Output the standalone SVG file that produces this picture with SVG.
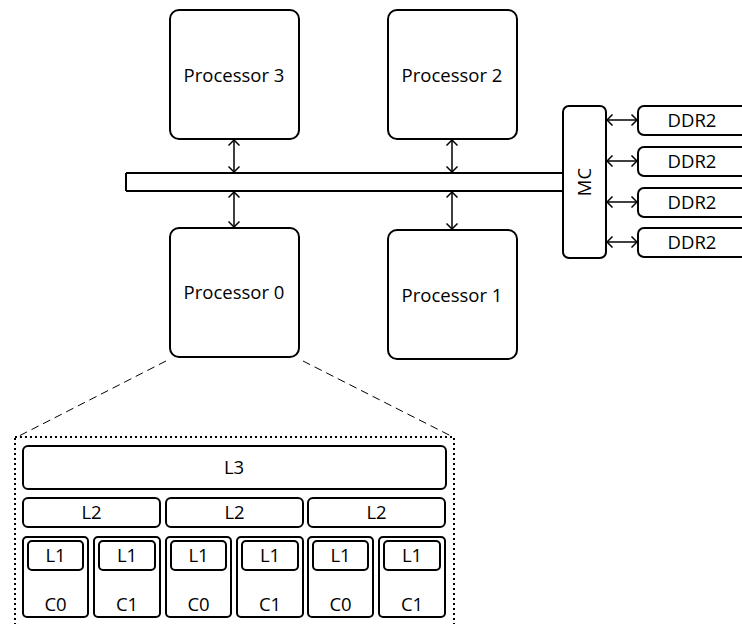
<svg xmlns="http://www.w3.org/2000/svg" width="742" height="624" viewBox="0 0 742 624">
<style>
.box{fill:#fff;stroke:#000;stroke-width:2}
.t{font-family:"Open Sans","Noto Sans",sans-serif;font-size:18.5px;fill:#000;text-anchor:middle}
.arr{fill:none;stroke:#000;stroke-width:1.5;marker-start:url(#ah);marker-end:url(#ah)}
.bus{stroke:#000;stroke-width:2;fill:none}
</style>
<defs>
<marker id="ah" viewBox="0 0 12 12" refX="11" refY="6" markerWidth="12" markerHeight="12" markerUnits="userSpaceOnUse" orient="auto-start-reverse">
<path d="M5.5,0.5 L11,6 L5.5,11.5" fill="none" stroke="#000" stroke-width="1.5"/>
</marker>
</defs>
<rect width="742" height="624" fill="#fff"/>
<g id="connectors">
<path class="bus" d="M126,173 H563 M126,191 H563 M126,173 V191"/>
<line class="arr" x1="234" y1="140" x2="234" y2="172"/>
<line class="arr" x1="234" y1="192" x2="234" y2="227"/>
<line class="arr" x1="452" y1="140" x2="452" y2="172"/>
<line class="arr" x1="452" y1="192" x2="452" y2="229"/>
<line class="arr" x1="607" y1="120" x2="637" y2="120"/>
<line class="arr" x1="607" y1="161" x2="637" y2="161"/>
<line class="arr" x1="607" y1="202" x2="637" y2="202"/>
<line class="arr" x1="607" y1="242" x2="637" y2="242"/>
<line x1="166" y1="361" x2="17" y2="437" stroke="#000" stroke-width="1" stroke-dasharray="8,5"/>
<line x1="303" y1="361" x2="453" y2="437" stroke="#000" stroke-width="1" stroke-dasharray="8,5"/>
</g>
<g id="processor3"><rect class="box" x="170" y="10" width="129" height="129" rx="9"/><text class="t" x="234" y="82">Processor 3</text></g>
<g id="processor2"><rect class="box" x="388" y="10" width="129" height="129" rx="9"/><text class="t" x="452" y="82">Processor 2</text></g>
<g id="processor0"><rect class="box" x="170" y="228" width="129" height="129" rx="9"/><text class="t" x="234" y="299">Processor 0</text></g>
<g id="processor1"><rect class="box" x="388" y="230" width="129" height="129" rx="9"/><text class="t" x="452" y="302">Processor 1</text></g>
<g id="mc"><rect class="box" x="563" y="106" width="43" height="152" rx="6"/><text class="t" transform="translate(591,182) rotate(-90)">MC</text></g>
<g id="ddr2-1"><rect class="box" x="638" y="106" width="120" height="29" rx="6"/><text class="t" x="692" y="127">DDR2</text></g>
<g id="ddr2-2"><rect class="box" x="638" y="147" width="120" height="29" rx="6"/><text class="t" x="692" y="168">DDR2</text></g>
<g id="ddr2-3"><rect class="box" x="638" y="188" width="120" height="29" rx="6"/><text class="t" x="692" y="209">DDR2</text></g>
<g id="ddr2-4"><rect class="box" x="638" y="228" width="120" height="29" rx="6"/><text class="t" x="692" y="249">DDR2</text></g>
<g id="detail">
<rect x="15" y="437" width="439" height="200" fill="none" stroke="#000" stroke-width="2" stroke-dasharray="2,3"/>
</g>
<g id="l3"><rect class="box" x="23" y="446" width="423" height="43" rx="5"/><text class="t" x="234" y="474">L3</text></g>
<g id="l2-a"><rect class="box" x="23" y="498" width="137" height="29" rx="5"/><text class="t" x="91.5" y="519">L2</text></g>
<g id="l2-b"><rect class="box" x="166" y="498" width="137" height="29" rx="5"/><text class="t" x="234.5" y="519">L2</text></g>
<g id="l2-c"><rect class="box" x="308" y="498" width="137" height="29" rx="5"/><text class="t" x="376.5" y="519">L2</text></g>
<g id="core-a0"><rect class="box" x="23" y="537" width="65" height="80" rx="4"/><rect class="box" x="28" y="541" width="55" height="29" rx="4"/><text class="t" x="55.5" y="562">L1</text><text class="t" x="55.5" y="611">C0</text></g>
<g id="core-a1"><rect class="box" x="94" y="537" width="66" height="80" rx="4"/><rect class="box" x="99" y="541" width="56" height="29" rx="4"/><text class="t" x="127" y="562">L1</text><text class="t" x="127" y="611">C1</text></g>
<g id="core-b0"><rect class="box" x="166" y="537" width="65" height="80" rx="4"/><rect class="box" x="171" y="541" width="55" height="29" rx="4"/><text class="t" x="198.5" y="562">L1</text><text class="t" x="198.5" y="611">C0</text></g>
<g id="core-b1"><rect class="box" x="237" y="537" width="66" height="80" rx="4"/><rect class="box" x="242" y="541" width="56" height="29" rx="4"/><text class="t" x="270" y="562">L1</text><text class="t" x="270" y="611">C1</text></g>
<g id="core-c0"><rect class="box" x="308" y="537" width="65" height="80" rx="4"/><rect class="box" x="313" y="541" width="55" height="29" rx="4"/><text class="t" x="340.5" y="562">L1</text><text class="t" x="340.5" y="611">C0</text></g>
<g id="core-c1"><rect class="box" x="379" y="537" width="66" height="80" rx="4"/><rect class="box" x="384" y="541" width="56" height="29" rx="4"/><text class="t" x="412" y="562">L1</text><text class="t" x="412" y="611">C1</text></g>
</svg>
